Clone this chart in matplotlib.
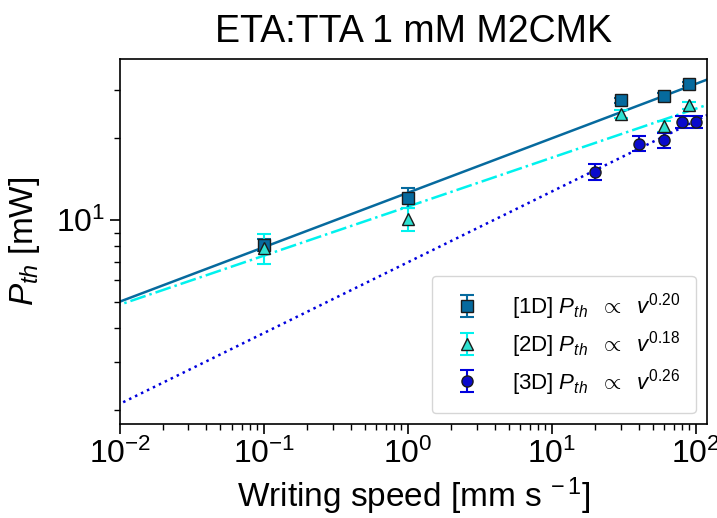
import numpy as np
import matplotlib
matplotlib.use("Agg")
import matplotlib.pyplot as plt

plt.rcParams['font.family'] = ['Liberation Sans', 'DejaVu Sans']
plt.rcParams['mathtext.fontset'] = 'custom'
plt.rcParams['mathtext.rm'] = 'Liberation Sans'
plt.rcParams['mathtext.it'] = 'Liberation Sans:italic'
plt.rcParams['mathtext.bf'] = 'Liberation Sans:bold'

# 1D writing
v_1d = [0.1, 1, 30, 60, 90]
p_1d = [8.1, 12.1, 27.5, 28.6, 31.6]
err_1d = [0.4, 1.0, 0.6, 0.6, 0.6]
# 2D writing
v_2d = [0.1, 1, 30, 60, 90]
p_2d = [7.9, 10.1, 24.5, 22.1, 26.4]
err_2d = [1.0, 1.0, 0.8, 1.0, 0.8]
# 3D writing
v_3d = [20, 40, 60, 80, 100]
p_3d = [15.0, 19.1, 19.6, 22.9, 22.9]
err_3d = [1.0, 1.2, 1.2, 1.1, 1.1]

# power-law fits P = A * v^k
fit_1d = (12.6, 0.20)
fit_2d = (11.2, 0.18)
fit_3d = (7.0, 0.26)

fig = plt.figure(figsize=(7.17, 5.18), dpi=100)
ax = fig.add_axes([0.167, 0.181, 0.819, 0.705])

vfit = np.logspace(-2.1, 2.2, 200)
ax.plot(vfit, fit_1d[0] * vfit ** fit_1d[1], '-', color='#066a9e', lw=1.8)
ax.plot(vfit, fit_2d[0] * vfit ** fit_2d[1], '-.', color='#00f2ee', lw=1.8)
ax.plot(vfit, fit_3d[0] * vfit ** fit_3d[1], ':', color='#0000dd', lw=1.8)

ax.errorbar(v_1d, p_1d, yerr=err_1d, fmt='s', color='#066a9e', mfc='#066a9e',
            mec='#1a1a1a', ms=8, capsize=5, elinewidth=1.5, capthick=1.5,
            label=r'[1D] $P_{th}$  $\propto$  $v^{0.20}$')
ax.errorbar(v_2d, p_2d, yerr=err_2d, fmt='^', color='#00f2ee', mfc='#2ee0d0',
            mec='#1a1a1a', ms=8, capsize=5, elinewidth=1.5, capthick=1.5,
            label=r'[2D] $P_{th}$  $\propto$  $v^{0.18}$')
ax.errorbar(v_3d, p_3d, yerr=err_3d, fmt='o', color='#0000dd', mfc='#0a0acc',
            mec='#1a1a1a', ms=8, capsize=5, elinewidth=1.5, capthick=1.5,
            label=r'[3D] $P_{th}$  $\propto$  $v^{0.26}$')

ax.set_xscale('log')
ax.set_yscale('log')
ax.set_xlim(0.01, 119)
ax.set_ylim(1.78, 39)

ax.tick_params(which='both', direction='out', top=False, right=False,
               labelsize=23)
ax.tick_params(which='major', length=7, width=1.2)
ax.tick_params(which='minor', length=4, width=1.0)
ax.yaxis.set_minor_formatter(matplotlib.ticker.NullFormatter())

ax.set_title('ETA:TTA 1 mM M2CMK', fontsize=27, pad=12)
ax.set_xlabel(r'Writing speed [mm s $^{-\,1}$]', fontsize=24, labelpad=4)
ax.set_ylabel(r'$P_{th}$ [mW]', fontsize=24, labelpad=10)

for s in ax.spines.values():
    s.set_linewidth(1.2)

leg = ax.legend(loc='lower right', fontsize=16, frameon=True, fancybox=True,
                edgecolor='#cccccc', borderpad=0.7, handletextpad=1.1,
                handlelength=1.8, labelspacing=0.3, borderaxespad=0.5)

fig.savefig('out.png', dpi=100)
